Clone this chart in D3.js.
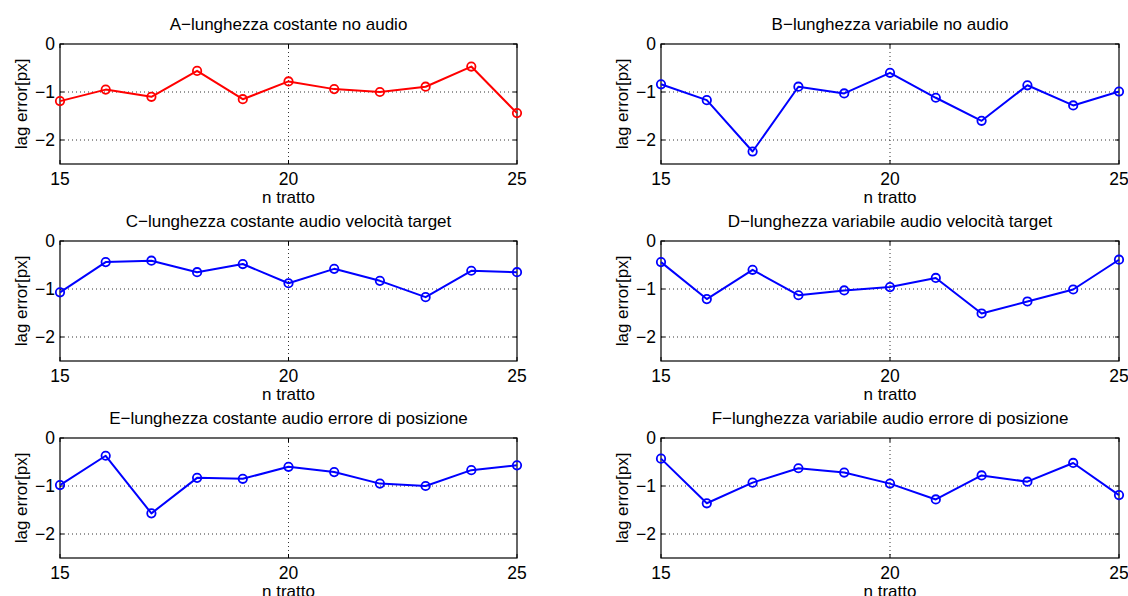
<!DOCTYPE html>
<html>
<head>
<meta charset="utf-8">
<script src="https://cdn.jsdelivr.net/npm/d3@7"></script>
<style>
  html, body { margin: 0; padding: 0; background: #fff; }
  svg { display: block; }
  text { font-family: "Liberation Sans", Arial, Helvetica, sans-serif; fill: #000; }
</style>
</head>
<body>
<svg id="fig" width="1128" height="596"></svg>
<script>
// Segment index on the x axis
const tratto = [15, 16, 17, 18, 19, 20, 21, 22, 23, 24, 25];

// Lag error per segment for each experimental condition
const lagA = [-1.19, -0.95, -1.10, -0.56, -1.15, -0.78, -0.94, -1.00, -0.89, -0.47, -1.44];
const lagB = [-0.84, -1.17, -2.24, -0.89, -1.03, -0.60, -1.12, -1.60, -0.86, -1.28, -0.99];
const lagC = [-1.07, -0.44, -0.41, -0.65, -0.48, -0.88, -0.58, -0.83, -1.17, -0.62, -0.65];
const lagD = [-0.44, -1.21, -0.60, -1.13, -1.03, -0.96, -0.77, -1.51, -1.26, -1.01, -0.39];
const lagE = [-0.98, -0.37, -1.57, -0.83, -0.85, -0.60, -0.71, -0.95, -1.00, -0.67, -0.57];
const lagF = [-0.43, -1.36, -0.93, -0.63, -0.72, -0.95, -1.28, -0.78, -0.91, -0.52, -1.19];

const titles = [
  "A\u2212lunghezza costante no audio",
  "B\u2212lunghezza variabile no audio",
  "C\u2212lunghezza costante audio velocità target",
  "D\u2212lunghezza variabile audio velocità target",
  "E\u2212lunghezza costante audio errore di posizione",
  "F\u2212lunghezza variabile audio errore di posizione"
];
const seriesList = [lagA, lagB, lagC, lagD, lagE, lagF];
const colors = ["#ff0000", "#0000ff", "#0000ff", "#0000ff", "#0000ff", "#0000ff"];

const xTicks = [15, 20, 25];
const yTicks = [0, -1, -2];
const yDomain = [-2.5, 0];
const xLabel = "n tratto";
const yLabel = "lag error[px]";

// Subplot grid geometry
const colX = [60, 661];
const colW = [457, 458];
const rowY = [44, 241, 438];
const plotH = 120;
const tickLen = 4;

const svg = d3.select("#fig");

seriesList.forEach((vals, i) => {
  const col = i % 2, row = Math.floor(i / 2);
  const left = colX[col], top = rowY[row], w = colW[col], h = plotH;

  const x = d3.scaleLinear().domain([15, 25]).range([0, w]);
  const y = d3.scaleLinear().domain(yDomain).range([h, 0]);

  const g = svg.append("g").attr("transform", `translate(${left},${top})`);

  // dotted grid
  g.selectAll("line.gy").data(yTicks.filter(t => t !== 0)).enter().append("line")
    .attr("x1", 0).attr("x2", w)
    .attr("y1", d => y(d)).attr("y2", d => y(d))
    .attr("stroke", "#333").attr("stroke-width", 1).attr("stroke-dasharray", "1,3");
  g.selectAll("line.gx").data(xTicks.filter(t => t !== 15 && t !== 25)).enter().append("line")
    .attr("y1", 0).attr("y2", h)
    .attr("x1", d => x(d)).attr("x2", d => x(d))
    .attr("stroke", "#333").attr("stroke-width", 1).attr("stroke-dasharray", "1,3");

  // inward ticks on all four sides
  const tk = g.append("g").attr("stroke", "#000").attr("stroke-width", 1);
  xTicks.forEach(t => {
    tk.append("line").attr("x1", x(t)).attr("x2", x(t)).attr("y1", h).attr("y2", h - tickLen);
    tk.append("line").attr("x1", x(t)).attr("x2", x(t)).attr("y1", 0).attr("y2", tickLen);
  });
  yTicks.forEach(t => {
    tk.append("line").attr("y1", y(t)).attr("y2", y(t)).attr("x1", 0).attr("x2", tickLen);
    tk.append("line").attr("y1", y(t)).attr("y2", y(t)).attr("x1", w).attr("x2", w - tickLen);
  });

  // axes box
  g.append("rect").attr("x", 0).attr("y", 0).attr("width", w).attr("height", h)
    .attr("fill", "none").attr("stroke", "#000").attr("stroke-width", 1.2);

  // tick labels
  g.selectAll("text.xt").data(xTicks).enter().append("text")
    .attr("x", d => x(d)).attr("y", h + 21)
    .attr("text-anchor", "middle").style("font-size", "17.5px")
    .text(d => d);
  g.selectAll("text.yt").data(yTicks).enter().append("text")
    .attr("x", -5).attr("y", d => y(d)).attr("dy", "0.36em")
    .attr("text-anchor", "end").style("font-size", "17.5px")
    .text(d => d < 0 ? "\u2212" + Math.abs(d) : d);

  // titles and axis labels
  g.append("text").attr("x", w / 2).attr("y", -14)
    .attr("text-anchor", "middle").style("font-size", "17px").text(titles[i]);
  g.append("text").attr("x", w / 2).attr("y", h + 39)
    .attr("text-anchor", "middle").style("font-size", "17px").text(xLabel);
  g.append("text")
    .attr("transform", `translate(-39,${h / 2}) rotate(-90)`)
    .attr("text-anchor", "middle").attr("dy", "0.36em")
    .style("font-size", "17px").text(yLabel);

  // data line with circle markers
  const pts = tratto.map((t, k) => [t, vals[k]]);
  const line = d3.line().x(d => x(d[0])).y(d => y(d[1]));
  g.append("path").datum(pts).attr("d", line)
    .attr("fill", "none").attr("stroke", colors[i]).attr("stroke-width", 2)
    .attr("stroke-linejoin", "round");
  g.selectAll("circle").data(pts).enter().append("circle")
    .attr("cx", d => x(d[0])).attr("cy", d => y(d[1])).attr("r", 4.2)
    .attr("fill", "none").attr("stroke", colors[i]).attr("stroke-width", 1.8);
});
</script>
</body>
</html>
